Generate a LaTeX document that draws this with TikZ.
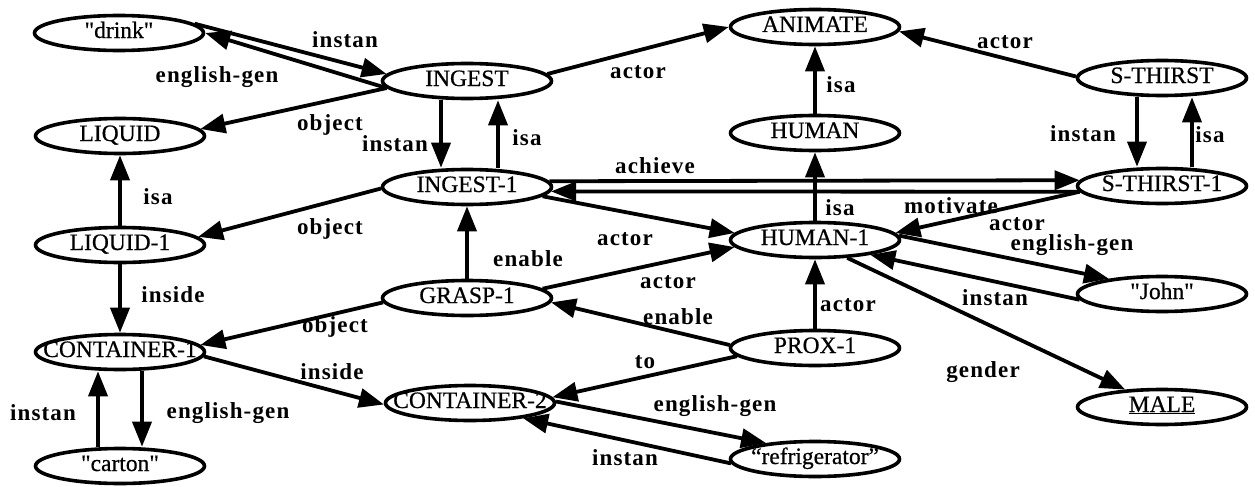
\documentclass[tikz,border=0pt]{standalone}
\usepackage{fontspec}
\setmainfont{Liberation Serif}
\newfontfamily\conceptfont[FakeBold=0.6]{Liberation Serif}
\newfontfamily\edgefont[LetterSpace=5]{Liberation Serif}
\usetikzlibrary{arrows.meta,shapes.geometric}

% concept name, kept from widening the ellipse
\newcommand\cname[1]{\makebox[0pt]{#1}}
% straight double quote
\newcommand\sq{\char34\relax}

\tikzset{
  concept/.style={ellipse, draw, line width=3.6pt, minimum width=169pt,
    minimum height=35pt, inner sep=0pt, text height=14pt, text depth=4pt,
    font=\conceptfont\fontsize{23.5}{23.5}\selectfont},
  rel/.style={line width=3.8pt, -{Triangle[length=25pt,width=19pt]}},
  lbl/.style={inner sep=0pt, font=\edgefont\bfseries\fontsize{23}{23}\selectfont},
}

\begin{document}
\begin{tikzpicture}[x=1pt,y=-1pt]
\fill[white] (0,0) rectangle (1255,487);
\useasboundingbox (0,0) rectangle (1255,487);

% concepts
\node[concept] (drink)      at (119,33)  {\cname{\sq drink\sq}};
\node[concept] (INGEST)     at (467,81)  {\cname{INGEST}};
\node[concept] (ANIMATE)    at (815,27)  {\cname{ANIMATE}};
\node[concept] (SThirst)    at (1162,78) {\cname{S-THIRST}};
\node[concept] (LIQUID)     at (120,136) {\cname{LIQUID}};
\node[concept] (HUMAN)      at (815,133) {\cname{HUMAN}};
\node[concept] (INGEST1)    at (467,187) {\cname{INGEST-1}};
\node[concept] (SThirst1)   at (1162,186){\cname{S-THIRST-1}};
\node[concept] (LIQUID1)    at (120,245) {\cname{LIQUID-1}};
\node[concept] (HUMAN1)     at (815,240) {\cname{HUMAN-1}};
\node[concept] (GRASP1)     at (467,298) {\cname{GRASP-1}};
\node[concept] (John)       at (1162,294){\cname{\sq John\sq}};
\node[concept] (CONTAINER1) at (120,352) {\cname{CONTAINER-1}};
\node[concept] (PROX1)      at (815,348) {\cname{PROX-1}};
\node[concept] (CONTAINER2) at (470,403) {\cname{CONTAINER-2}};
\node[concept] (MALE)       at (1162,407){\cname{\underline{MALE}}};
\node[concept] (carton)     at (120,466) {\cname{\sq carton\sq}};
\node[concept] (refrig)     at (815,459) {\cname{“refrigerator”}};

% relations
\draw[rel] (drink.7) -- (INGEST.175) node[lbl] at (345,40) {instan};
\draw[rel] (INGEST.185) -- (drink.0) node[lbl] at (217,77) {english-gen};
\draw[rel] (INGEST.185) -- (LIQUID.5) node[lbl] at (330,125) {object};
\draw[rel] (INGEST.5) -- (ANIMATE.180) node[lbl] at (638,72) {actor};
\draw[rel] (SThirst.179) -- (ANIMATE.357) node[lbl] at (1005,42) {actor};
\draw[rel] (HUMAN.north) -- (ANIMATE.south) node[lbl] at (841,85) {isa};
\draw[rel] ([xshift=-26pt]INGEST.south) -- ([xshift=-26pt]INGEST1.north)
  node[lbl] at (395,144) {instan};
\draw[rel] ([xshift=31pt]INGEST1.north) -- ([xshift=31pt]INGEST.south)
  node[lbl] at (527,138) {isa};
\draw[rel] ([xshift=-25pt]SThirst.south) -- ([xshift=-25pt]SThirst1.north)
  node[lbl] at (1083,134) {instan};
\draw[rel] ([xshift=30pt]SThirst1.north) -- ([xshift=30pt]SThirst.south)
  node[lbl] at (1210,135) {isa};
\draw[rel] (LIQUID1.north) -- (LIQUID.south) node[lbl] at (158,197) {isa};
\draw[rel] (INGEST1.181) -- (LIQUID1.6) node[lbl] at (330,229) {object};
\draw[rel] (LIQUID1.south) -- (CONTAINER1.north) node[lbl] at (173,295) {inside};
\draw[rel] (INGEST1.4) -- (SThirst1.176) node[lbl] at (655,166) {achieve};
\draw[rel] (SThirst1.184) -- (INGEST1.357) node[lbl] at (951,206) {motivate};
\draw[rel] (INGEST1.353) -- (HUMAN1.175) node[lbl] at (625,239) {actor};
\draw[rel] (HUMAN1.north) -- (HUMAN.south) node[lbl] at (840,208) {isa};
\draw[rel] (SThirst1.184) -- (HUMAN1.5) node[lbl] at (1017,224) {actor};
\draw[rel] (HUMAN1.3) -- (John.164) node[lbl] at (1072,245) {english-gen};
\draw[rel] (John.184) -- (HUMAN1.345) node[lbl] at (995,298) {instan};
\draw[rel] (HUMAN1.331) -- (MALE) node[lbl] at (983,372) {gender};
\draw[rel] (GRASP1.north) -- (INGEST1.south) node[lbl] at (528,259) {enable};
\draw[rel] (GRASP1.7) -- (HUMAN1.185) node[lbl] at (668,282) {actor};
\draw[rel] (GRASP1.183) -- (CONTAINER1.5) node[lbl] at (335,327) {object};
\draw[rel] (CONTAINER1.357) -- (CONTAINER2.181) node[lbl] at (332,372) {inside};
\draw[rel] ([xshift=-22pt]carton.north) -- ([xshift=-22pt]CONTAINER1.south)
  node[lbl] at (43,413) {instan};
\draw[rel] ([xshift=22pt]CONTAINER1.south) -- ([xshift=22pt]carton.north)
  node[lbl] at (228,413) {english-gen};
\draw[rel] (PROX1.178) -- (GRASP1.357) node[lbl] at (678,317) {enable};
\draw[rel] (PROX1.186) -- (CONTAINER2.4) node[lbl] at (645,362) {to};
\draw[rel] (PROX1.north) -- (HUMAN1.south) node[lbl] at (848,305) {actor};
\draw[rel] (CONTAINER2.1) -- (refrig.162) node[lbl] at (715,406) {english-gen};
\draw[rel] (refrig.183) -- (CONTAINER2.344) node[lbl] at (625,458) {instan};
\end{tikzpicture}
\end{document}
